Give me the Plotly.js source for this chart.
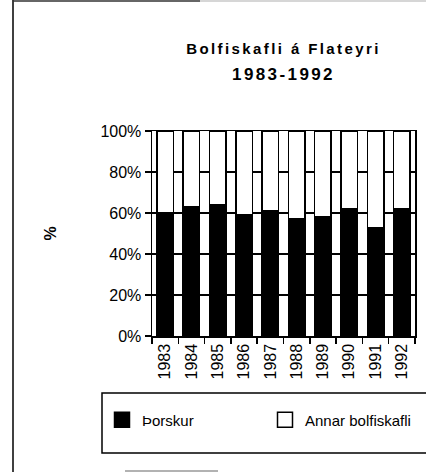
<!DOCTYPE html>
<html>
<head>
<meta charset="utf-8">
<script src="https://cdn.plot.ly/plotly-3.0.1.min.js"></script>
<style>
  html, body { margin: 0; padding: 0; background: #fff; }
  #chart { width: 426px; height: 472px; }
  .gtitle { letter-spacing: 2.4px; }
</style>
</head>
<body>
<div id="chart"></div>
<script>
// Data
const years = ['1983', '1984', '1985', '1986', '1987', '1988', '1989', '1990', '1991', '1992'];
const thorskur = [60, 63, 64, 59, 61, 57, 58, 62, 53, 62];          // Þorskur (%)
const annarBolfiskafli = [40, 37, 36, 41, 39, 43, 42, 38, 47, 38];  // Annar bolfiskafli (%)
const yTickVals = [0, 20, 40, 60, 80, 100];
const yTickText = ['0%', '20%', '40%', '60%', '80%', '100%'];

const FONT = 'Arial, "Liberation Sans", Helvetica, sans-serif';

// helpers: convert pixel positions to paper coordinates for decorations
const L = 152, R = 11, T = 131, B = 136, W = 426, H = 472;
const pw = W - L - R, ph = H - T - B;
const px = x => (x - L) / pw;
const py = y => (H - B - y) / ph;

const traces = [
  {
    type: 'bar', name: 'Þorskur', x: years, y: thorskur,
    marker: { color: '#000', line: { color: '#000', width: 1.5 } },
    legendwidth: 118
  },
  {
    type: 'bar', name: 'Annar bolfiskafli', x: years, y: annarBolfiskafli,
    marker: { color: '#fff', line: { color: '#000', width: 1.5 } }
  }
];

const layout = {
  width: W, height: H,
  margin: { l: L, r: R, t: T, b: B, pad: 0 },
  paper_bgcolor: '#fff', plot_bgcolor: '#fff',
  font: { family: FONT, color: '#000', size: 16 },
  barmode: 'stack',
  bargap: 0.37,
  title: {
    text: '<span style="font-size:15px">Bolfiskafli á Flateyri</span><br><span style="font-size:17px">1983-1992</span>',
    font: { family: FONT, size: 20, color: '#000', weight: 'bold' },
    x: 0.5, xref: 'paper', xanchor: 'center',
    y: 1 - 54 / H, yref: 'container', yanchor: 'top'
  },
  xaxis: {
    type: 'category',
    range: [-0.5, 9.5],
    showline: true, mirror: true, linecolor: '#000', linewidth: 1.5,
    ticks: 'outside', tickson: 'boundaries', ticklen: 6, tickwidth: 1.5, tickcolor: '#000',
    tickangle: -90, tickfont: { size: 16, family: FONT },
    showgrid: false, zeroline: false, fixedrange: true
  },
  yaxis: {
    range: [0, 100],
    tickmode: 'array', tickvals: yTickVals, ticktext: yTickText,
    showline: true, mirror: true, linecolor: '#000', linewidth: 1.5,
    ticks: 'outside', ticklen: 6, tickwidth: 1.5, tickcolor: '#000',
    tickfont: { size: 16, family: FONT },
    showgrid: true, gridcolor: '#000', gridwidth: 1.5,
    zeroline: false, fixedrange: true,
    title: { text: '%', font: { size: 16, family: FONT, weight: 'bold' }, standoff: 40 }
  },
  showlegend: true,
  legend: {
    orientation: 'h',
    x: px(100), xanchor: 'left',
    y: py(420), yanchor: 'middle',
    font: { size: 15, family: FONT, color: '#000' },
    bgcolor: 'rgba(0,0,0,0)', borderwidth: 0,
    traceorder: 'normal'
  },
  shapes: [
    // outer frame remnants
    { type: 'line', xref: 'paper', yref: 'paper', x0: px(13), x1: px(13), y0: py(472), y1: py(0),
      line: { color: '#000', width: 1.5 } },
    { type: 'line', xref: 'paper', yref: 'paper', x0: px(13), x1: px(200), y0: py(1), y1: py(1),
      line: { color: '#333', width: 1.5 } },
    { type: 'line', xref: 'paper', yref: 'paper', x0: px(200), x1: px(426), y0: py(1), y1: py(1),
      line: { color: '#c8c8c8', width: 1.5 } },
    { type: 'line', xref: 'paper', yref: 'paper', x0: px(125), x1: px(218), y0: py(471), y1: py(471),
      line: { color: '#999', width: 1.5 } },
    // legend box
    { type: 'rect', xref: 'paper', yref: 'paper', x0: px(102), x1: px(436), y0: py(453), y1: py(393),
      line: { color: '#000', width: 1.5 }, fillcolor: 'rgba(0,0,0,0)' }
  ]
};

Plotly.newPlot('chart', traces, layout, { displayModeBar: false, staticPlot: true }).then(gd => {
  // enlarge legend swatches slightly, like the reference
  gd.querySelectorAll('.legend .legendpoints path').forEach(p => {
    const t = p.getAttribute('transform') || '';
    p.setAttribute('transform', t + ' scale(1.25)');
    p.style.strokeWidth = '1.2px';
  });
  // place the legend so its first text starts where the reference has it (x = 142)
  const lg = gd.querySelector('g.legend');
  const firstText = gd.querySelector('g.legend .legendtext');
  if (lg && firstText) {
    const gdBox = gd.getBoundingClientRect();
    const tx = firstText.getBoundingClientRect().left - gdBox.left;
    const dx = 142 - tx;
    const m = /translate\(\s*([-\d.]+)[ ,]+([-\d.]+)\s*\)/.exec(lg.getAttribute('transform') || '');
    if (m) lg.setAttribute('transform', 'translate(' + (parseFloat(m[1]) + dx) + ',' + m[2] + ')');
  }
});
</script>
</body>
</html>
